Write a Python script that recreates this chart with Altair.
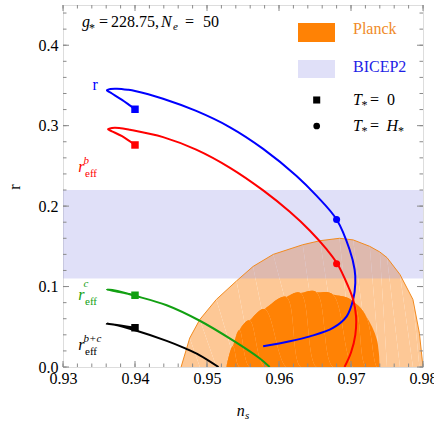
import altair as alt
import pandas as pd

# ---------------- data ----------------
# blue curve r (start at T*=0 square, loop tip, then main branch)
r_x = [0.9400, 0.9382, 0.9368, 0.9361, 0.9366, 0.9375, 0.9390, 0.9400, 0.9439, 0.9485, 0.9532,
       0.9578, 0.9624, 0.9652, 0.9680, 0.9698, 0.9705, 0.9706, 0.9703, 0.9694, 0.9675, 0.9643,
       0.9615, 0.9578]
r_y = [0.3204, 0.3320, 0.3400, 0.3440, 0.3457, 0.3460, 0.3447, 0.3432, 0.3335, 0.3183, 0.2980,
       0.2712, 0.2378, 0.2130, 0.1834, 0.1461, 0.1212, 0.1046, 0.0838, 0.0630, 0.0486, 0.0381,
       0.0319, 0.0257]
# red curve r_eff^b
rb_x = [0.9400, 0.9382, 0.9368, 0.93625, 0.9368, 0.9378, 0.9393, 0.9439, 0.9485, 0.9532, 0.9578,
        0.9615, 0.9643, 0.9666, 0.9681, 0.9696, 0.9703, 0.9707, 0.9706, 0.9700, 0.9691]
rb_y = [0.2760, 0.2870, 0.2930, 0.2955, 0.2972, 0.2972, 0.2950, 0.2858, 0.2702, 0.2476, 0.2195,
        0.1929, 0.1694, 0.1464, 0.1283, 0.1004, 0.0838, 0.0630, 0.0400, 0.0180, 0.0000]
# green curve r_eff^c
rc_x = [0.9400, 0.9380, 0.9361, 0.9372, 0.9400, 0.9444, 0.9490, 0.9536, 0.9573, 0.9587]
rc_y = [0.0892, 0.0930, 0.0962, 0.0950, 0.0885, 0.0768, 0.0575, 0.0330, 0.0108, 0.0000]
# black curve r_eff^{b+c}
rbc_x = [0.9400, 0.9380, 0.9361, 0.9370, 0.9400, 0.9444, 0.9469, 0.9490, 0.9516]
rbc_y = [0.0488, 0.0515, 0.0538, 0.0528, 0.0456, 0.0324, 0.0234, 0.0146, 0.0000]

# markers
sq_x = [0.940, 0.940, 0.940, 0.940]
sq_y = [0.3204, 0.2760, 0.0892, 0.0488]
sq_c = ["#0000FF", "#FF0000", "#12A012", "#000000"]
ci_x = [0.968, 0.968]
ci_y = [0.1834, 0.1283]
ci_c = ["#0000FF", "#FF0000"]

# Planck contours (upper boundary)
p95_x = [0.9464, 0.9476, 0.9490, 0.9513, 0.9541, 0.9564, 0.9592, 0.9633, 0.9657, 0.9684, 0.9703,
         0.9726, 0.9740, 0.9750, 0.9768, 0.9786, 0.9795, 0.9800]
p95_y = [0.000, 0.036, 0.059, 0.084, 0.107, 0.125, 0.140, 0.152, 0.157, 0.160, 0.158,
         0.150, 0.143, 0.136, 0.115, 0.084, 0.042, 0.000]
p68_x = [0.9527, 0.9536, 0.9545, 0.9559, 0.9580, 0.9610, 0.9630, 0.9652, 0.9675, 0.9703, 0.9721,
         0.9736, 0.9740]
p68_y = [0.000, 0.026, 0.046, 0.058, 0.072, 0.087, 0.092, 0.093, 0.090, 0.081, 0.063,
         0.034, 0.000]

# BICEP2 band
band_lo = [0.11]
band_hi = [0.22]

# axis ticks
x_major = [0.93, 0.94, 0.95, 0.96, 0.97, 0.98]
x_minor = [round(0.93 + 0.002 * k, 3) for k in range(26)]
y_major = [0.0, 0.1, 0.2, 0.3, 0.4]
y_minor = [round(0.02 * k, 2) for k in range(23)]

# ---------------- chart ----------------
W, H = 360, 362
FONT = "Liberation Serif, Times New Roman, serif"
xs = alt.Scale(domain=[0.93, 0.98], nice=False, zero=False)
ys = alt.Scale(domain=[0.0, 0.45], nice=False, zero=False)

xaxis = alt.Axis(values=x_major, format=".2f", ticks=False, domain=False, grid=False,
                 labelFont=FONT, labelFontSize=16, labelColor="black", labelPadding=3,
                 labelFlush=False, labelOverlap=False, labelBound=False, title=None)
yaxis = alt.Axis(values=y_major, format=".1f", ticks=False, domain=False, grid=False,
                 labelFont=FONT, labelFontSize=16, labelColor="black", labelPadding=5,
                 labelOverlap=False, title=None)


def XY(df_x, df_y):
    return pd.DataFrame({"x": df_x, "y": df_y, "o": list(range(len(df_x)))})


p95 = XY(p95_x, p95_y)
p68 = XY(p68_x, p68_y)

outer_fill = alt.Chart(p95).mark_area(color="#FDC896", clip=True, interpolate="linear").encode(
    x=alt.X("x:Q", scale=xs, axis=xaxis),
    y=alt.Y("y:Q", scale=ys, axis=yaxis),
    order="o:Q")

band = alt.Chart(pd.DataFrame({"y": band_lo, "y2": band_hi})).mark_rect(
    color="#9898E8", opacity=0.3).encode(
    x=alt.value(0), x2=alt.value(W), y=alt.Y("y:Q", scale=ys), y2="y2:Q")

outer_edge = alt.Chart(p95).mark_line(color="#F28A1E", strokeWidth=1, clip=True).encode(
    x=alt.X("x:Q", scale=xs), y=alt.Y("y:Q", scale=ys), order="o:Q")

inner_fill = alt.Chart(p68).mark_area(color="#FF8205", clip=True, interpolate="catmull-rom").encode(
    x=alt.X("x:Q", scale=xs), y=alt.Y("y:Q", scale=ys), order="o:Q")

TICK = "#8a8a8a"


def xticks(vals, ln):
    d = pd.DataFrame({"x": vals})
    b = alt.Chart(d).mark_rule(color=TICK, strokeWidth=1).encode(
        x=alt.X("x:Q", scale=xs), y=alt.value(H), y2=alt.value(H - ln))
    t = alt.Chart(d).mark_rule(color=TICK, strokeWidth=1).encode(
        x=alt.X("x:Q", scale=xs), y=alt.value(0), y2=alt.value(ln))
    return [b, t]


def yticks(vals, ln):
    d = pd.DataFrame({"y": vals})
    l = alt.Chart(d).mark_rule(color=TICK, strokeWidth=1).encode(
        y=alt.Y("y:Q", scale=ys), x=alt.value(0), x2=alt.value(ln))
    r = alt.Chart(d).mark_rule(color=TICK, strokeWidth=1).encode(
        y=alt.Y("y:Q", scale=ys), x=alt.value(W), x2=alt.value(W - ln))
    return [l, r]


ticks = xticks(x_minor, 3.5) + xticks(x_major, 6) + yticks(y_minor, 3.5) + yticks(y_major, 6)


def curve(cx, cy, color):
    return alt.Chart(XY(cx, cy)).mark_line(color=color, strokeWidth=2, clip=True,
                                           interpolate="catmull-rom").encode(
        x=alt.X("x:Q", scale=xs), y=alt.Y("y:Q", scale=ys), order="o:Q")


curves = [curve(r_x, r_y, "#0000FF"), curve(rb_x, rb_y, "#FF0000"),
          curve(rc_x, rc_y, "#12A012"), curve(rbc_x, rbc_y, "#000000")]

squares = alt.Chart(pd.DataFrame({"x": sq_x, "y": sq_y, "c": sq_c})).mark_square(
    size=56, opacity=1).encode(
    x=alt.X("x:Q", scale=xs), y=alt.Y("y:Q", scale=ys),
    color=alt.Color("c:N", scale=None, legend=None))
circles = alt.Chart(pd.DataFrame({"x": ci_x, "y": ci_y, "c": ci_c})).mark_circle(
    size=50, opacity=1).encode(
    x=alt.X("x:Q", scale=xs), y=alt.Y("y:Q", scale=ys),
    color=alt.Color("c:N", scale=None, legend=None))

ONE = alt.Data(values=[{"k": 0}])


def txt(s, x, y, size=16, color="black", style="normal", align="left", baseline="alphabetic", angle=0):
    kw = dict(font=FONT, fontSize=size, color=color, fontStyle=style, align=align, baseline=baseline)
    if angle:
        kw["angle"] = angle
    return alt.Chart(ONE).mark_text(**kw).encode(x=alt.value(x), y=alt.value(y), text=alt.value(s))


def box(x1, y1, x2, y2, color):
    return alt.Chart(ONE).mark_rect(color=color).encode(
        x=alt.value(x1), x2=alt.value(x2), y=alt.value(y1), y2=alt.value(y2))


def pt(shape, x, y, size):
    return alt.Chart(ONE).mark_point(shape=shape, filled=True, size=size, color="black", opacity=1).encode(
        x=alt.value(x), y=alt.value(y))


anno = [
    # header
    txt("g", 19, 22, style="italic"),
    txt("*", 26, 27, size=12),
    txt("=", 36, 22), txt("228.75,", 48, 22),
    txt("N", 98, 22, style="italic"), txt("e", 110, 25, size=11, style="italic"),
    txt("=", 122, 22), txt("50", 140, 22),
    # legend
    box(235, 18, 272, 37, "#FF8205"),
    box(235, 55, 272, 73, "#E0E0F8"),
    txt("Planck", 290, 29, color="#F08A28"),
    txt("BICEP2", 290, 67, color="#1E1EE6"),
    pt("square", 253.7, 95, 50),
    pt("circle", 253.7, 121, 45),
    txt("T", 290, 100, style="italic"), txt("*", 298.5, 104, size=12),
    txt("=", 307, 100), txt("0", 324, 100),
    txt("T", 290, 126, style="italic"), txt("*", 298.5, 130, size=12),
    txt("=", 307, 126), txt("H", 323.5, 126, style="italic"), txt("*", 335, 130, size=12),
    # curve labels
    txt("r", 29.5, 85, color="#0000FF"),
    txt("r", 15.3, 166.7, color="#FF0000", style="italic"),
    txt("b", 20.5, 159, size=11, color="#FF0000", style="italic"),
    txt("eff", 22, 171.7, size=11, color="#FF0000"),
    txt("r", 15.3, 295, color="#12A012", style="italic"),
    txt("c", 20.5, 282, size=11, color="#12A012", style="italic"),
    txt("eff", 22, 300, size=11, color="#12A012"),
    txt("r", 15.3, 345, style="italic"),
    txt("b+c", 20.5, 336.7, size=11, style="italic"),
    txt("eff", 22, 350, size=11),
    # axis titles
    txt("r", -48, 182, align="center", baseline="middle", angle=270),
    txt("n", 173.7, 411, style="italic"),
    txt("s", 182, 414, size=11, style="italic"),
]

chart = alt.layer(outer_fill, band, outer_edge, inner_fill, *ticks, *curves, squares, circles, *anno).properties(
    width=W, height=H,
    autosize=alt.AutoSizeParams(type="none"),
    padding={"left": 63, "top": 5, "right": 11, "bottom": 54},
).configure_view(stroke="#8a8a8a", strokeWidth=1).configure(background="white")

chart.save("out.html", embed_options={"renderer": "svg", "actions": False})
